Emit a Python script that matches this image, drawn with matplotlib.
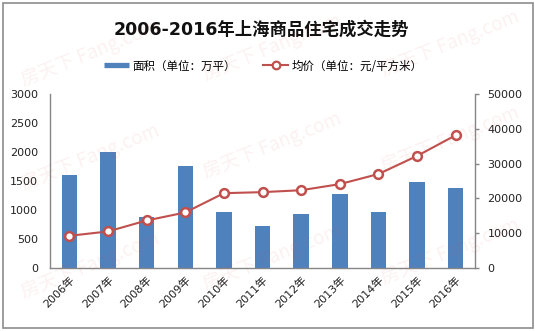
import matplotlib
matplotlib.use("Agg")
import matplotlib.pyplot as plt
from matplotlib.lines import Line2D
from matplotlib.patches import Rectangle

plt.rcParams['font.family'] = ['DejaVu Sans', 'Noto Sans CJK SC']

years = ['2006年', '2007年', '2008年', '2009年', '2010年', '2011年',
         '2012年', '2013年', '2014年', '2015年', '2016年']
area = [1600, 2000, 880, 1760, 965, 720, 927, 1273, 962, 1480, 1376]
price = [9250, 10500, 13650, 15950, 21500, 21800, 22350, 24100, 27000, 32200, 38150]
left_ticks = [0, 500, 1000, 1500, 2000, 2500, 3000]
right_ticks = [0, 10000, 20000, 30000, 40000, 50000]

title = '2006-2016年上海商品住宅成交走势'
area_label = '面积（单位：万平）'
price_label = '均价（单位：元/平方米）'

BLUE = '#4F81BD'
RED = '#C0504D'
GREY = '#868686'

W, H = 535, 331
fig = plt.figure(figsize=(W / 100, H / 100), dpi=100)
fig.patch.set_facecolor('white')


def px(x, y):
    return x / W, (H - y) / H


# plot area
x0, y0 = px(50, 268)
x1, y1 = px(475, 94)
ax = fig.add_axes([x0, y0, x1 - x0, y1 - y0])
ax2 = ax.twinx()

pos = list(range(len(years)))
ax.bar(pos, area, width=0.4, color=BLUE, zorder=2)
ax2.plot(pos, price, color=RED, lw=1.5, marker='o', markersize=6.3,
         markerfacecolor='white', markeredgecolor=RED, markeredgewidth=1.8,
         zorder=3)

ax.set_xlim(-0.5, len(years) - 0.5)
ax.set_ylim(0, 3000)
ax2.set_ylim(0, 50000)
ax.set_yticks(left_ticks)
ax2.set_yticks(right_ticks)
ax.set_xticks(pos)
ax.set_xticklabels(years, rotation=45, ha='right', va='top',
                   rotation_mode='anchor')

for a in (ax, ax2):
    for s in a.spines.values():
        s.set_color(GREY)
        s.set_linewidth(1.0)
    a.spines['top'].set_visible(False)
ax.spines['right'].set_visible(False)
ax2.spines['left'].set_visible(False)
ax2.spines['bottom'].set_visible(False)

ax.tick_params(axis='y', length=0, pad=8.5, labelsize=8, labelcolor='#222222')
ax.tick_params(axis='x', length=0, pad=5, labelsize=8, labelcolor='#222222')
ax2.tick_params(axis='y', length=3, width=1, color=GREY, direction='out',
                pad=6, labelsize=8, labelcolor='#222222')

# title
tx, ty = px(261, 30)
fig.text(tx, ty, title, ha='center', va='center', fontsize=12.5,
         fontweight='bold', color='#111111')

# legend
handles = [
    Line2D([], [], color=BLUE, lw=3.8, solid_capstyle='butt'),
    Line2D([], [], color=RED, lw=1.5, marker='o', markersize=5.5,
           markerfacecolor='white', markeredgecolor=RED, markeredgewidth=1.6),
]
lx, ly = px(263, 66)
fig.legend(handles, [area_label, price_label], loc='center',
           bbox_to_anchor=(lx, ly), ncol=2, frameon=False,
           handlelength=2.2, handletextpad=0.25, columnspacing=2.4,
           prop={'family': ['Noto Sans CJK SC'], 'size': 8.3})

# faint site watermark
mark = '房天下 Fang.com'
for wx, wy in [(18, 86), (200, 80), (378, 76),
               (18, 190), (200, 178), (378, 172),
               (18, 298), (200, 290), (378, 284)]:
    fx, fy = px(wx, wy)
    fig.text(fx, fy, mark, rotation=22, fontsize=13.5, color='#E05050',
             alpha=0.08, ha='left', va='baseline', zorder=10,
             family=['Noto Sans CJK SC'])

# outer frame
bx0, by0 = px(3, 328)
bx1, by1 = px(533, 3)
fig.add_artist(Rectangle((bx0, by0), bx1 - bx0, by1 - by0,
                         transform=fig.transFigure, fill=False,
                         edgecolor='#8C8C8C', lw=1.2))

fig.savefig('out.png', dpi=100)
